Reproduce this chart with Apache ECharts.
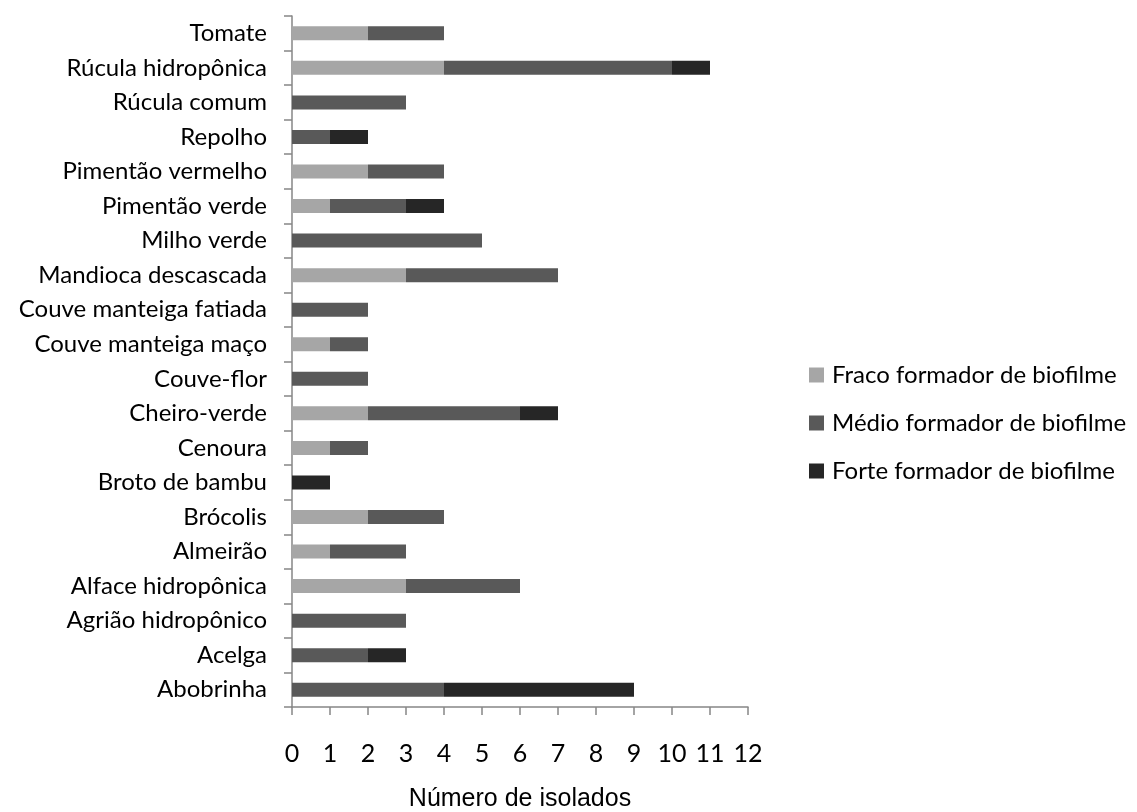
<!DOCTYPE html>
<html>
<head>
<meta charset="utf-8">
<script src="https://cdn.jsdelivr.net/npm/echarts@6/dist/echarts.min.js"></script>
<style>
html,body{margin:0;padding:0;background:#fff;}
#chart{width:1137px;height:812px;}
</style>
</head>
<body>
<div id="chart"></div>
<script>
// Categories listed top to bottom (axis is inverted)
const categories = [
  "Tomate", "Rúcula hidropônica", "Rúcula comum", "Repolho", "Pimentão vermelho",
  "Pimentão verde", "Milho verde", "Mandioca descascada", "Couve manteiga fatiada",
  "Couve manteiga maço", "Couve-flor", "Cheiro-verde", "Cenoura", "Broto de bambu",
  "Brócolis", "Almeirão", "Alface hidropônica", "Agrião hidropônico", "Acelga", "Abobrinha"
];
const fraco = [2, 4, 0, 0, 2, 1, 0, 3, 0, 1, 0, 2, 1, 0, 2, 1, 3, 0, 0, 0];
const medio = [2, 6, 3, 1, 2, 2, 5, 4, 2, 1, 2, 4, 1, 0, 2, 2, 3, 3, 2, 4];
const forte = [0, 1, 0, 1, 0, 1, 0, 0, 0, 0, 0, 1, 0, 1, 0, 0, 0, 0, 1, 5];
const seriesNames = ["Fraco formador de biofilme", "Médio formador de biofilme", "Forte formador de biofilme"];
const xTicks = [0, 1, 2, 3, 4, 5, 6, 7, 8, 9, 10, 11, 12];
const xTitle = "Número de isolados";

const colors = ["#a6a6a6", "#595959", "#262626"];
const labelFont = "Lato, 'Open Sans', sans-serif";

const chart = echarts.init(document.getElementById('chart'), null, {renderer: 'canvas'});
const mk = (name, data, color) => ({
  name: name, type: 'bar', stack: 'total', data: data,
  barWidth: 14, itemStyle: {color: color}, emphasis: {disabled: true}
});
chart.setOption({
  animation: false,
  backgroundColor: '#ffffff',
  grid: {left: 292, right: 389, top: 16, bottom: 105, containLabel: false, outerBoundsMode: 'none'},
  legend: {
    orient: 'vertical', left: 804, top: 358,
    itemWidth: 15, itemHeight: 15, itemGap: 24,
    icon: 'rect',
    data: seriesNames,
    textStyle: {fontFamily: labelFont, fontSize: 24, color: '#000', padding: [0, 0, 0, 3]}
  },
  xAxis: {
    type: 'value', min: xTicks[0], max: xTicks[xTicks.length - 1], interval: 1,
    name: xTitle, nameLocation: 'middle', nameGap: 80,
    nameTextStyle: {fontFamily: "'Liberation Sans', Arial, sans-serif", fontSize: 25, color: '#000'},
    axisLine: {show: true, lineStyle: {color: '#868686', width: 1.5}},
    axisTick: {show: true, length: 8, lineStyle: {color: '#868686', width: 1.5}},
    axisLabel: {margin: 34, fontFamily: labelFont, fontSize: 25, color: '#000',
      formatter: v => String(v)},
    splitLine: {show: false}
  },
  yAxis: {
    type: 'category', data: categories, inverse: true,
    axisLine: {show: true, lineStyle: {color: '#868686', width: 1.5}},
    axisTick: {show: true, length: 8, lineStyle: {color: '#868686', width: 1.5}},
    axisLabel: {margin: 25, fontFamily: labelFont, fontSize: 24, color: '#000', interval: 0},
    splitLine: {show: false}
  },
  series: [
    mk(seriesNames[0], fraco, colors[0]),
    mk(seriesNames[1], medio, colors[1]),
    mk(seriesNames[2], forte, colors[2])
  ]
});
</script>
</body>
</html>
